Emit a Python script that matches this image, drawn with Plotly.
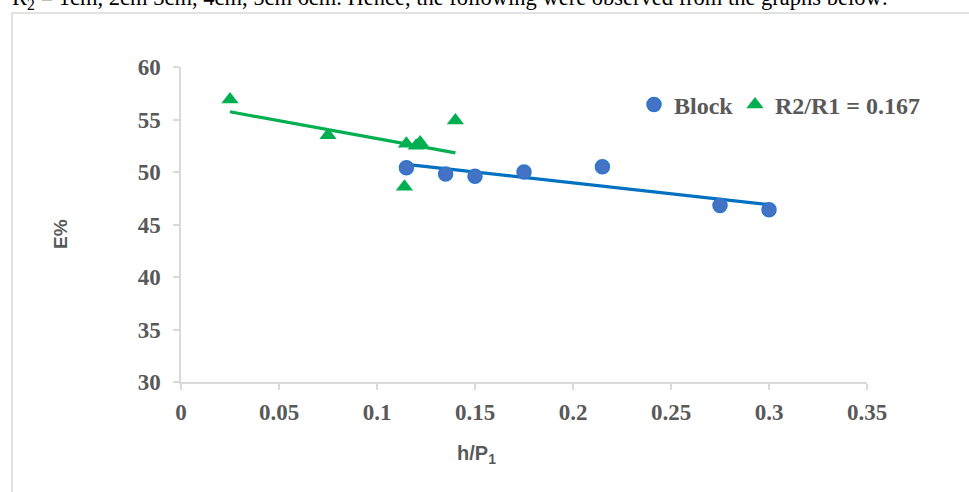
import numpy as np
import plotly.graph_objects as go

# h/P1 ratio and efficiency E% for each configuration
block_x = [0.115, 0.135, 0.15, 0.175, 0.215, 0.275, 0.3]
block_y = [50.4, 49.8, 49.6, 50.0, 50.5, 46.8, 46.4]

ratio_x = [0.025, 0.075, 0.114, 0.115, 0.12, 0.122, 0.14]
ratio_y = [56.9, 53.5, 48.6, 52.7, 52.5, 52.8, 54.9]

x_ticks = [0, 0.05, 0.1, 0.15, 0.2, 0.25, 0.3, 0.35]
x_tick_text = ["0", "0.05", "0.1", "0.15", "0.2", "0.25", "0.3", "0.35"]
y_ticks = [30, 35, 40, 45, 50, 55, 60]

series_names = ["Block", "R2/R1 = 0.167"]

BLUE_FILL = "#4472C4"
BLUE_LINE = "#0070C0"
GREEN = "#00B050"
GREY = "#595959"
AXIS = "#D9D9D9"
SERIF = "Liberation Serif, Times New Roman, serif"
TICK_FONT = dict(family=SERIF, size=23, color=GREY, weight="bold")


def linear_fit(xs, ys):
    slope, intercept = np.polyfit(xs, ys, 1)
    x_end = [min(xs), max(xs)]
    return x_end, [slope * v + intercept for v in x_end]


fig = go.Figure()

# linear trend lines (not shown in the legend)
bx, by = linear_fit(block_x, block_y)
fig.add_trace(go.Scatter(x=bx, y=by, mode="lines", showlegend=False,
                         line=dict(color=BLUE_LINE, width=3.2), hoverinfo="skip"))
gx, gy = linear_fit(ratio_x, ratio_y)
fig.add_trace(go.Scatter(x=gx, y=gy, mode="lines", showlegend=False,
                         line=dict(color=GREEN, width=3.2), hoverinfo="skip"))

fig.add_trace(go.Scatter(
    x=block_x, y=block_y, mode="markers", name=series_names[0], legend="legend",
    marker=dict(symbol="circle", size=14, color=BLUE_FILL,
                line=dict(color="#2E75CC", width=1.5)),
))
fig.add_trace(go.Scatter(
    x=ratio_x, y=ratio_y, mode="markers", name=series_names[1], legend="legend2",
    marker=dict(symbol="triangle-up", size=15, color=GREEN,
                line=dict(color=GREEN, width=0)),
))

fig.update_xaxes(
    range=[0, 0.35], tickvals=x_ticks, ticktext=x_tick_text,
    showgrid=False, zeroline=False, showline=True, linecolor=AXIS, linewidth=1.5,
    ticks="outside", ticklen=6, tickcolor=AXIS, tickwidth=1.5,
    tickfont=TICK_FONT, ticklabelstandoff=3,
)
fig.update_yaxes(
    range=[30, 60], tickvals=y_ticks,
    showgrid=False, zeroline=False, showline=True, linecolor=AXIS, linewidth=1.5,
    ticks="outside", ticklen=6, tickcolor=AXIS, tickwidth=1.5,
    tickfont=TICK_FONT, ticklabelstandoff=8,
)

# pixel helpers for placing chrome relative to the plot area
L, R, T, B = 181, 102, 67, 110
W, H = 969, 492
PW, PH = W - L - R, H - T - B


def px(x):
    return (x - L) / PW


def py(y):
    return (H - B - y) / PH


# chart frame
fig.add_shape(type="rect", xref="paper", yref="paper",
              x0=px(12), x1=px(W + 20), y0=py(13), y1=py(H + 20),
              line=dict(color=AXIS, width=1.5), fillcolor="rgba(0,0,0,0)", layer="below")

# running text above the chart
fig.add_annotation(
    xref="paper", yref="paper", x=px(10), y=py(15), xanchor="left", yanchor="bottom",
    text="R<sub>2</sub> = 1cm, 2cm 3cm, 4cm, 5cm 6cm. Hence, the following were observed from the graphs below:",
    showarrow=False, font=dict(family=SERIF, size=22.5, color="#000000"),
)

# axis titles
fig.add_annotation(
    xref="paper", yref="paper", x=px(476), y=py(454), xanchor="center", yanchor="middle",
    text="<b>h/P<sub>1</sub></b>", showarrow=False,
    font=dict(family="Liberation Sans Narrow, Liberation Sans, Arial, sans-serif", size=20, color=GREY),
)
fig.add_annotation(
    xref="paper", yref="paper", x=px(60), y=py(234), xanchor="center", yanchor="middle",
    text="<b>E%</b>", textangle=-90, showarrow=False,
    font=dict(family="Liberation Sans, Arial, sans-serif", size=19, color=GREY),
)

LEGEND_FONT = dict(family=SERIF, size=24, color=GREY, weight="bold")
fig.update_layout(
    width=W, height=H,
    margin=dict(l=L, r=R, t=T, b=B),
    paper_bgcolor="white", plot_bgcolor="white",
    legend=dict(
        orientation="h", x=px(634), y=py(105), xanchor="left", yanchor="middle",
        font=LEGEND_FONT, bgcolor="rgba(0,0,0,0)", itemwidth=30,
    ),
    legend2=dict(
        orientation="h", x=px(735), y=py(105), xanchor="left", yanchor="middle",
        font=LEGEND_FONT, bgcolor="rgba(0,0,0,0)", itemwidth=30,
    ),
)

fig.write_html("out.html")
